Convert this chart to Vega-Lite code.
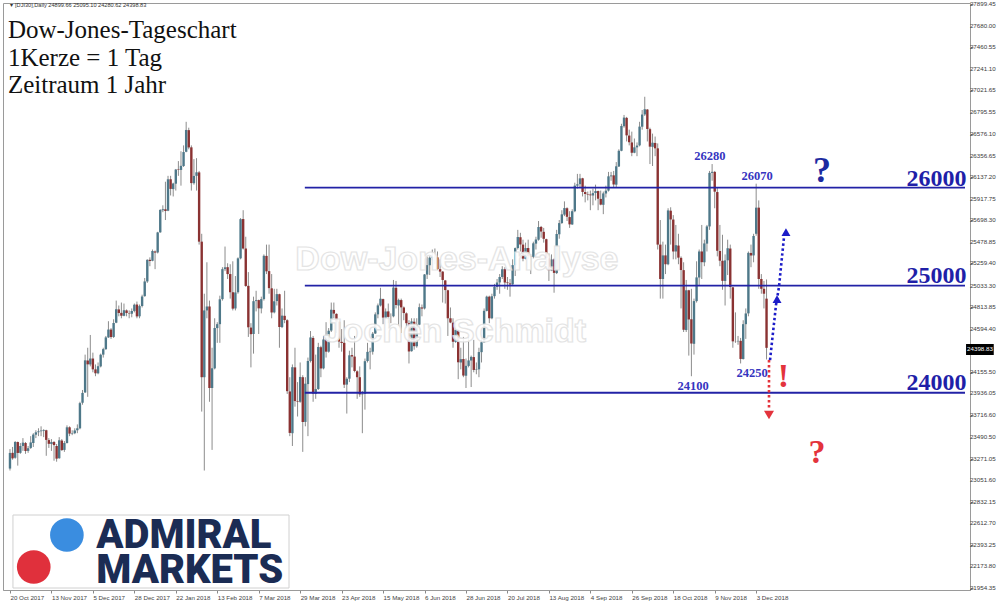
{
"$schema":"https://vega.github.io/schema/vega-lite/v6.json",
"width":967,"height":587,
"autosize":{"type":"none"},
"padding":{"left":3,"top":3,"right":30,"bottom":15},
"background":"white",
"config":{"view":{"stroke":"#9a9a9a","strokeWidth":1},"axis":{"grid":false,"labelOverlap":false,"labelBound":false,"labelFlush":false}},
"datasets":{
"candles":[
{"i":0,"o":23170,"h":23368,"l":23150,"c":23329},{"i":1,"o":23330,"h":23390,"l":23260,"c":23274},{"i":2,"o":23280,"h":23450,"l":23270,"c":23441},{"i":3,"o":23440,"h":23445,"l":23200,"c":23329},{"i":4,"o":23330,"h":23430,"l":23320,"c":23400},{"i":5,"o":23400,"h":23480,"l":23350,"c":23434},{"i":6,"o":23430,"h":23440,"l":23320,"c":23349},{"i":7,"o":23350,"h":23400,"l":23330,"c":23377},{"i":8,"o":23380,"h":23500,"l":23370,"c":23436},{"i":9,"o":23430,"h":23530,"l":23390,"c":23516},
{"i":10,"o":23515,"h":23560,"l":23480,"c":23539},{"i":11,"o":23540,"h":23580,"l":23500,"c":23549},{"i":12,"o":23550,"h":23600,"l":23500,"c":23557},{"i":13,"o":23555,"h":23570,"l":23490,"c":23563},{"i":14,"o":23560,"h":23565,"l":23300,"c":23462},{"i":15,"o":23460,"h":23480,"l":23380,"c":23422},{"i":16,"o":23420,"h":23470,"l":23350,"c":23440},{"i":17,"o":23440,"h":23450,"l":23250,"c":23409},{"i":18,"o":23400,"h":23420,"l":23240,"c":23271},{"i":19,"o":23275,"h":23490,"l":23270,"c":23458},
{"i":20,"o":23455,"h":23470,"l":23350,"c":23358},{"i":21,"o":23360,"h":23450,"l":23340,"c":23430},{"i":22,"o":23430,"h":23610,"l":23425,"c":23590},{"i":23,"o":23590,"h":23600,"l":23500,"c":23526},{"i":24,"o":23525,"h":23560,"l":23510,"c":23530},{"i":25,"o":23530,"h":23580,"l":23520,"c":23558},{"i":26,"o":23560,"h":23620,"l":23530,"c":23580},{"i":27,"o":23580,"h":23850,"l":23570,"c":23836},{"i":28,"o":23840,"h":23970,"l":23820,"c":23940},{"i":29,"o":23945,"h":24330,"l":23940,"c":24272},
{"i":30,"o":24270,"h":24400,"l":23900,"c":24231},{"i":31,"o":24230,"h":24530,"l":24210,"c":24290},{"i":32,"o":24290,"h":24350,"l":24150,"c":24180},{"i":33,"o":24180,"h":24230,"l":24110,"c":24140},{"i":34,"o":24140,"h":24250,"l":24130,"c":24212},{"i":35,"o":24210,"h":24340,"l":24200,"c":24329},{"i":36,"o":24330,"h":24400,"l":24300,"c":24386},{"i":37,"o":24385,"h":24520,"l":24380,"c":24505},{"i":38,"o":24505,"h":24670,"l":24500,"c":24585},{"i":39,"o":24585,"h":24600,"l":24490,"c":24509},
{"i":40,"o":24510,"h":24690,"l":24500,"c":24652},{"i":41,"o":24655,"h":24880,"l":24650,"c":24792},{"i":42,"o":24790,"h":24830,"l":24720,"c":24754},{"i":43,"o":24755,"h":24860,"l":24700,"c":24726},{"i":44,"o":24725,"h":24850,"l":24720,"c":24782},{"i":45,"o":24780,"h":24790,"l":24720,"c":24754},{"i":46,"o":24750,"h":24780,"l":24700,"c":24746},{"i":47,"o":24745,"h":24800,"l":24710,"c":24774},{"i":48,"o":24775,"h":24850,"l":24760,"c":24838},{"i":49,"o":24840,"h":24870,"l":24700,"c":24719},
{"i":50,"o":24720,"h":24840,"l":24700,"c":24824},{"i":51,"o":24825,"h":24940,"l":24810,"c":24922},{"i":52,"o":24925,"h":25110,"l":24920,"c":25075},{"i":53,"o":25075,"h":25300,"l":25060,"c":25295},{"i":54,"o":25295,"h":25320,"l":25230,"c":25283},{"i":55,"o":25285,"h":25400,"l":25280,"c":25385},{"i":56,"o":25380,"h":25390,"l":25200,"c":25369},{"i":57,"o":25370,"h":25580,"l":25360,"c":25574},{"i":58,"o":25575,"h":25810,"l":25570,"c":25803},{"i":59,"o":25800,"h":25850,"l":25780,"c":25810},
{"i":60,"o":25810,"h":26090,"l":25700,"c":25792},{"i":61,"o":25795,"h":26150,"l":25790,"c":26115},{"i":62,"o":26115,"h":26150,"l":25950,"c":26017},{"i":63,"o":26015,"h":26080,"l":25940,"c":26072},{"i":64,"o":26070,"h":26220,"l":26000,"c":26214},{"i":65,"o":26215,"h":26300,"l":26150,"c":26210},{"i":66,"o":26210,"h":26400,"l":26050,"c":26252},{"i":67,"o":26250,"h":26460,"l":26240,"c":26392},{"i":68,"o":26395,"h":26700,"l":26390,"c":26617},{"i":69,"o":26615,"h":26640,"l":26420,"c":26439},
{"i":70,"o":26440,"h":26460,"l":26000,"c":26076},{"i":71,"o":26075,"h":26320,"l":26060,"c":26149},{"i":72,"o":26150,"h":26330,"l":26000,"c":26186},{"i":73,"o":26185,"h":26200,"l":25450,"c":25480},{"i":74,"o":25480,"h":25560,"l":23750,"c":24100},{"i":75,"o":24100,"h":24950,"l":23150,"c":24780},{"i":76,"o":24780,"h":25270,"l":24700,"c":24820},{"i":77,"o":24820,"h":24880,"l":23850,"c":23990},{"i":78,"o":23990,"h":24400,"l":23360,"c":24191},{"i":79,"o":24190,"h":24700,"l":24180,"c":24601},
{"i":80,"o":24600,"h":24660,"l":24450,"c":24640},{"i":81,"o":24640,"h":24930,"l":24450,"c":24893},{"i":82,"o":24895,"h":25220,"l":24880,"c":25200},{"i":83,"o":25200,"h":25430,"l":25180,"c":25219},{"i":84,"o":25220,"h":25260,"l":25100,"c":25150},{"i":85,"o":25150,"h":25250,"l":24900,"c":24965},{"i":86,"o":24965,"h":25280,"l":24780,"c":24798},{"i":87,"o":24800,"h":25130,"l":24780,"c":24963},{"i":88,"o":24965,"h":25320,"l":24950,"c":25310},{"i":89,"o":25310,"h":25720,"l":25300,"c":25709},
{"i":90,"o":25710,"h":25800,"l":25400,"c":25410},{"i":91,"o":25410,"h":25530,"l":25020,"c":25029},{"i":92,"o":25030,"h":25170,"l":24510,"c":24608},{"i":93,"o":24605,"h":24650,"l":24200,"c":24538},{"i":94,"o":24540,"h":24920,"l":24340,"c":24874},{"i":95,"o":24875,"h":24980,"l":24770,"c":24884},{"i":96,"o":24885,"h":24890,"l":24540,"c":24801},{"i":97,"o":24800,"h":24920,"l":24750,"c":24895},{"i":98,"o":24895,"h":25350,"l":24880,"c":25336},{"i":99,"o":25335,"h":25450,"l":25150,"c":25178},
{"i":100,"o":25180,"h":25450,"l":24950,"c":25007},{"i":101,"o":25005,"h":25150,"l":24700,"c":24759},{"i":102,"o":24760,"h":25000,"l":24750,"c":24873},{"i":103,"o":24875,"h":25000,"l":24830,"c":24946},{"i":104,"o":24945,"h":24950,"l":24400,"c":24611},{"i":105,"o":24610,"h":24800,"l":24600,"c":24727},{"i":106,"o":24725,"h":24980,"l":24650,"c":24682},{"i":107,"o":24680,"h":24690,"l":23930,"c":23958},{"i":108,"o":23955,"h":24100,"l":23500,"c":23533},{"i":109,"o":23530,"h":24230,"l":23400,"c":24202},
{"i":110,"o":24200,"h":24400,"l":23800,"c":23857},{"i":111,"o":23855,"h":24050,"l":23700,"c":23849},{"i":112,"o":23850,"h":24250,"l":23840,"c":24103},{"i":113,"o":24100,"h":24120,"l":23340,"c":23644},{"i":114,"o":23645,"h":24100,"l":23600,"c":24034},{"i":115,"o":24030,"h":24300,"l":23500,"c":24265},{"i":116,"o":24265,"h":24570,"l":24250,"c":24505},{"i":117,"o":24500,"h":24520,"l":23850,"c":23933},{"i":118,"o":23930,"h":24330,"l":23880,"c":23979},{"i":119,"o":23980,"h":24450,"l":23970,"c":24408},
{"i":120,"o":24405,"h":24420,"l":24100,"c":24189},{"i":121,"o":24190,"h":24520,"l":24180,"c":24484},{"i":122,"o":24485,"h":24660,"l":24300,"c":24360},{"i":123,"o":24360,"h":24600,"l":24350,"c":24573},{"i":124,"o":24575,"h":24860,"l":24560,"c":24787},{"i":125,"o":24785,"h":24860,"l":24700,"c":24748},{"i":126,"o":24745,"h":24750,"l":24550,"c":24665},{"i":127,"o":24665,"h":24680,"l":24400,"c":24463},{"i":128,"o":24460,"h":24590,"l":24360,"c":24448},{"i":129,"o":24450,"h":24680,"l":23990,"c":24024},
{"i":130,"o":24025,"h":24100,"l":23730,"c":24084},{"i":131,"o":24085,"h":24370,"l":24050,"c":24323},{"i":132,"o":24325,"h":24400,"l":24200,"c":24311},{"i":133,"o":24310,"h":24520,"l":24150,"c":24163},{"i":134,"o":24160,"h":24170,"l":23880,"c":24100},{"i":135,"o":24100,"h":24210,"l":23900,"c":23925},{"i":136,"o":23925,"h":23960,"l":23530,"c":23930},{"i":137,"o":23930,"h":24290,"l":23770,"c":24263},{"i":138,"o":24265,"h":24450,"l":24250,"c":24358},{"i":139,"o":24355,"h":24400,"l":24180,"c":24361},
{"i":140,"o":24360,"h":24560,"l":24330,"c":24543},{"i":141,"o":24545,"h":24760,"l":24540,"c":24740},{"i":142,"o":24740,"h":24850,"l":24700,"c":24831},{"i":143,"o":24830,"h":25010,"l":24820,"c":24899},{"i":144,"o":24895,"h":24900,"l":24640,"c":24707},{"i":145,"o":24705,"h":24800,"l":24690,"c":24769},{"i":146,"o":24770,"h":24850,"l":24650,"c":24714},{"i":147,"o":24715,"h":24750,"l":24650,"c":24715},{"i":148,"o":24720,"h":25090,"l":24710,"c":25013},{"i":149,"o":25010,"h":25080,"l":24800,"c":24835},
{"i":150,"o":24830,"h":24900,"l":24620,"c":24887},{"i":151,"o":24885,"h":24900,"l":24550,"c":24811},{"i":152,"o":24810,"h":24820,"l":24680,"c":24753},{"i":153,"o":24750,"h":24760,"l":24600,"c":24650},{"i":154,"o":24650,"h":24680,"l":24240,"c":24362},{"i":155,"o":24365,"h":24700,"l":24360,"c":24668},{"i":156,"o":24665,"h":24700,"l":24380,"c":24416},{"i":157,"o":24415,"h":24700,"l":24400,"c":24635},{"i":158,"o":24635,"h":24850,"l":24630,"c":24813},{"i":159,"o":24810,"h":24840,"l":24720,"c":24799},
{"i":160,"o":24800,"h":25150,"l":24790,"c":25146},{"i":161,"o":25145,"h":25330,"l":25100,"c":25241},{"i":162,"o":25240,"h":25330,"l":25140,"c":25317},{"i":163,"o":25315,"h":25400,"l":25290,"c":25322},{"i":164,"o":25320,"h":25410,"l":25250,"c":25320},{"i":165,"o":25320,"h":25380,"l":25190,"c":25201},{"i":166,"o":25200,"h":25300,"l":25120,"c":25175},{"i":167,"o":25175,"h":25180,"l":24860,"c":25090},{"i":168,"o":25085,"h":25090,"l":24850,"c":24987},{"i":169,"o":24985,"h":24990,"l":24520,"c":24700},
{"i":170,"o":24700,"h":24810,"l":24650,"c":24657},{"i":171,"o":24655,"h":24700,"l":24400,"c":24461},{"i":172,"o":24460,"h":24650,"l":24450,"c":24580},{"i":173,"o":24580,"h":24590,"l":24080,"c":24252},{"i":174,"o":24250,"h":24400,"l":24180,"c":24284},{"i":175,"o":24285,"h":24510,"l":24100,"c":24117},{"i":176,"o":24115,"h":24290,"l":23990,"c":24216},{"i":177,"o":24215,"h":24510,"l":24200,"c":24271},{"i":178,"o":24270,"h":24320,"l":24000,"c":24307},{"i":179,"o":24305,"h":24480,"l":24150,"c":24174},
{"i":180,"o":24175,"h":24250,"l":24130,"c":24180},{"i":181,"o":24180,"h":24400,"l":24100,"c":24356},{"i":182,"o":24355,"h":24500,"l":24250,"c":24456},{"i":183,"o":24455,"h":24800,"l":24450,"c":24776},{"i":184,"o":24775,"h":24930,"l":24770,"c":24920},{"i":185,"o":24920,"h":24930,"l":24650,"c":24700},{"i":186,"o":24700,"h":24950,"l":24690,"c":24924},{"i":187,"o":24925,"h":25050,"l":24900,"c":25019},{"i":188,"o":25020,"h":25100,"l":24990,"c":25064},{"i":189,"o":25065,"h":25150,"l":24950,"c":25120},
{"i":190,"o":25120,"h":25230,"l":25100,"c":25199},{"i":191,"o":25200,"h":25220,"l":25000,"c":25064},{"i":192,"o":25065,"h":25120,"l":24990,"c":25058},{"i":193,"o":25055,"h":25100,"l":24920,"c":25044},{"i":194,"o":25045,"h":25300,"l":25040,"c":25241},{"i":195,"o":25240,"h":25420,"l":25130,"c":25414},{"i":196,"o":25415,"h":25600,"l":25400,"c":25527},{"i":197,"o":25525,"h":25570,"l":25380,"c":25451},{"i":198,"o":25450,"h":25500,"l":25280,"c":25307},{"i":199,"o":25305,"h":25470,"l":25300,"c":25415},
{"i":200,"o":25415,"h":25500,"l":25300,"c":25333},{"i":201,"o":25330,"h":25350,"l":25150,"c":25327},{"i":202,"o":25325,"h":25480,"l":25310,"c":25463},{"i":203,"o":25460,"h":25530,"l":25400,"c":25502},{"i":204,"o":25500,"h":25690,"l":25490,"c":25629},{"i":205,"o":25630,"h":25640,"l":25520,"c":25583},{"i":206,"o":25580,"h":25620,"l":25470,"c":25509},{"i":207,"o":25505,"h":25510,"l":25240,"c":25313},{"i":208,"o":25310,"h":25360,"l":25080,"c":25187},{"i":209,"o":25185,"h":25350,"l":25180,"c":25299},
{"i":210,"o":25300,"h":25310,"l":24960,"c":25162},{"i":211,"o":25160,"h":25600,"l":25150,"c":25558},{"i":212,"o":25555,"h":25700,"l":25510,"c":25669},{"i":213,"o":25670,"h":25800,"l":25660,"c":25758},{"i":214,"o":25755,"h":25890,"l":25740,"c":25822},{"i":215,"o":25820,"h":25830,"l":25690,"c":25733},{"i":216,"o":25730,"h":25790,"l":25620,"c":25656},{"i":217,"o":25655,"h":25810,"l":25650,"c":25790},{"i":218,"o":25790,"h":26080,"l":25780,"c":26050},{"i":219,"o":26050,"h":26170,"l":26020,"c":26064},
{"i":220,"o":26065,"h":26170,"l":26030,"c":26124},{"i":221,"o":26125,"h":26130,"l":25940,"c":25986},{"i":222,"o":25985,"h":26050,"l":25880,"c":25965},{"i":223,"o":25965,"h":25990,"l":25900,"c":25960},{"i":224,"o":25960,"h":26000,"l":25800,"c":25952},{"i":225,"o":25950,"h":26020,"l":25850,"c":25974},{"i":226,"o":25975,"h":26060,"l":25900,"c":25995},{"i":227,"o":25995,"h":26000,"l":25800,"c":25917},{"i":228,"o":25915,"h":26000,"l":25850,"c":25857},{"i":229,"o":25855,"h":25990,"l":25760,"c":25971},
{"i":230,"o":25970,"h":26050,"l":25930,"c":25999},{"i":231,"o":26000,"h":26190,"l":25990,"c":26145},{"i":232,"o":26145,"h":26190,"l":26100,"c":26154},{"i":233,"o":26155,"h":26200,"l":26030,"c":26062},{"i":234,"o":26060,"h":26290,"l":26030,"c":26247},{"i":235,"o":26245,"h":26420,"l":26240,"c":26405},{"i":236,"o":26405,"h":26680,"l":26400,"c":26657},{"i":237,"o":26655,"h":26770,"l":26640,"c":26743},{"i":238,"o":26740,"h":26750,"l":26500,"c":26562},{"i":239,"o":26560,"h":26620,"l":26460,"c":26492},
{"i":240,"o":26490,"h":26600,"l":26350,"c":26385},{"i":241,"o":26385,"h":26530,"l":26380,"c":26440},{"i":242,"o":26440,"h":26490,"l":26350,"c":26458},{"i":243,"o":26460,"h":26700,"l":26450,"c":26651},{"i":244,"o":26650,"h":26820,"l":26620,"c":26774},{"i":245,"o":26775,"h":26955,"l":26760,"c":26828},{"i":246,"o":26825,"h":26830,"l":26500,"c":26627},{"i":247,"o":26625,"h":26640,"l":26270,"c":26447},{"i":248,"o":26445,"h":26580,"l":26250,"c":26487},{"i":249,"o":26485,"h":26550,"l":26350,"c":26430},
{"i":250,"o":26430,"h":26480,"l":25400,"c":25450},{"i":251,"o":25450,"h":25700,"l":24900,"c":25100},{"i":252,"o":25100,"h":25480,"l":24900,"c":25340},{"i":253,"o":25340,"h":25450,"l":25150,"c":25250},{"i":254,"o":25250,"h":25820,"l":25240,"c":25798},{"i":255,"o":25795,"h":25830,"l":25450,"c":25706},{"i":256,"o":25705,"h":25750,"l":25300,"c":25380},{"i":257,"o":25380,"h":25650,"l":25300,"c":25444},{"i":258,"o":25440,"h":25560,"l":25250,"c":25317},{"i":259,"o":25315,"h":25330,"l":24800,"c":25191},
{"i":260,"o":25190,"h":25270,"l":24560,"c":24583},{"i":261,"o":24580,"h":25090,"l":24560,"c":24985},{"i":262,"o":24985,"h":24990,"l":24320,"c":24688},{"i":263,"o":24690,"h":25000,"l":24110,"c":24443},{"i":264,"o":24440,"h":24900,"l":24330,"c":24875},{"i":265,"o":24875,"h":25280,"l":24860,"c":25116},{"i":266,"o":25115,"h":25400,"l":25030,"c":25380},{"i":267,"o":25380,"h":25650,"l":25100,"c":25271},{"i":268,"o":25270,"h":25500,"l":25230,"c":25462},{"i":269,"o":25460,"h":25650,"l":25380,"c":25635},
{"i":270,"o":25635,"h":26200,"l":25600,"c":26180},{"i":271,"o":26180,"h":26270,"l":26100,"c":26191},{"i":272,"o":26190,"h":26200,"l":25820,"c":25989},{"i":273,"o":25985,"h":26030,"l":25330,"c":25387},{"i":274,"o":25385,"h":25650,"l":25230,"c":25286},{"i":275,"o":25285,"h":25550,"l":24990,"c":25081},{"i":276,"o":25080,"h":25350,"l":24830,"c":25289},{"i":277,"o":25290,"h":25500,"l":25140,"c":25413},{"i":278,"o":25410,"h":25450,"l":24900,"c":25018},{"i":279,"o":25015,"h":25020,"l":24400,"c":24465},
{"i":280,"o":24465,"h":24760,"l":24450,"c":24464},{"i":281,"o":24465,"h":24520,"l":24430,"c":24470},{"i":282,"o":24470,"h":24500,"l":24240,"c":24286},{"i":283,"o":24285,"h":24680,"l":24280,"c":24640},{"i":284,"o":24640,"h":24800,"l":24490,"c":24749},{"i":285,"o":24750,"h":25380,"l":24720,"c":25366},{"i":286,"o":25365,"h":25450,"l":25220,"c":25339},{"i":287,"o":25340,"h":25560,"l":25270,"c":25538},{"i":288,"o":25560,"h":26070,"l":25540,"c":25826},{"i":289,"o":25826,"h":25900,"l":25000,"c":25100},
{"i":290,"o":25100,"h":25150,"l":24950,"c":25000},{"i":291,"o":25000,"h":25080,"l":24800,"c":24950},{"i":292,"o":24899.66,"h":25095.10,"l":24280.62,"c":24398.83}
],
"yticks":[{"v":27899.45},{"v":27680.00},{"v":27460.55},{"v":27241.10},{"v":27021.65},{"v":26795.55},{"v":26576.10},{"v":26356.65},{"v":26137.20},{"v":25917.75},{"v":25698.30},{"v":25478.85},{"v":25259.40},{"v":25033.30},{"v":24813.85},{"v":24594.40},{"v":24155.50},{"v":23936.05},{"v":23716.60},{"v":23490.50},{"v":23271.05},{"v":23051.60},{"v":22832.15},{"v":22612.70},{"v":22393.25},{"v":22173.80},{"v":21954.35}],
"levels":[{"p":26029,"from":113.8,"to":368.6},{"p":25032,"from":113.8,"to":368.6},{"p":23942,"from":113.8,"to":368.6}],
"notes":[
{"g":"hdr","t":"▾ [DJI30],Daily  24899.66 25095.10 24280.62 24398.83","i":0.2,"p":27864},
{"g":"title","t":"Dow-Jones-Tageschart","i":-0.8,"p":27553},
{"g":"title","t":"1Kerze = 1 Tag","i":-0.8,"p":27268},
{"g":"title","t":"Zeitraum 1 Jahr","i":-0.8,"p":26993},
{"g":"peak","t":"26280","i":270.1,"p":26311},
{"g":"peak","t":"26070","i":288.4,"p":26108},
{"g":"peak","t":"24100","i":263.7,"p":23965},
{"g":"peak","t":"24250","i":286.4,"p":24102},
{"g":"level","t":"26000","i":369.2,"p":26046},
{"g":"level","t":"25000","i":369.2,"p":25059},
{"g":"level","t":"24000","i":369.2,"p":23970},
{"g":"bq","t":"?","i":313.4,"p":26087},
{"g":"red","t":"?","i":311.5,"p":23227},
{"g":"red","t":"!","i":298.5,"p":24000},
{"g":"wm","t":"Dow-Jones-Analyse","i":172.5,"p":25191},
{"g":"wm","t":"Jochen Schmidt","i":171.7,"p":24458},
{"g":"logo","t":"ADMIRAL","i":33.3,"p":22361},
{"g":"logo","t":"MARKETS","i":33.3,"p":22005},
{"g":"px","t":"24398.83","i":369.4,"p":24387}
],
"paths":[
{"s":"up","n":0,"i":293.35,"p":24275},{"s":"up","n":1,"i":295.65,"p":24835},{"s":"up","n":2,"i":296.8,"p":25018},{"s":"up","n":3,"i":298.7,"p":25517},
{"s":"down","n":0,"i":292.95,"p":24275},{"s":"down","n":1,"i":292.95,"p":23787}
],
"heads":[{"s":"up","i":296.05,"p":24896},{"s":"up","i":299.5,"p":25578},{"s":"down","i":292.95,"p":23715}],
"logobox":[{"i0":1.15,"i1":107.7,"p0":22697,"p1":21954}],
"dots":[{"k":"blue","i":21.96,"p":22494},{"k":"red","i":9.17,"p":22168}],
"pxbox":[{"i0":369.0,"i1":379.7,"p0":24438,"p1":24326}]
},
"layer":[
{"data":{"name":"candles"},
 "mark":{"type":"rule","color":"#8c8c8c","strokeWidth":1},
 "encoding":{
  "x":{"field":"i","type":"quantitative","scale":{"domain":[-0.764,368.6],"nice":false,"zero":false},
   "axis":{"title":null,"orient":"bottom","values":[0,16,32,48,64,80,96,112,128,144,160,176,192,208,224,240,256,272,288],
    "labelExpr":"['20 Oct 2017','13 Nov 2017','5 Dec 2017','28 Dec 2017','22 Jan 2018','13 Feb 2018','7 Mar 2018','29 Mar 2018','23 Apr 2018','15 May 2018','6 Jun 2018','28 Jun 2018','20 Jul 2018','13 Aug 2018','4 Sep 2018','26 Sep 2018','18 Oct 2018','9 Nov 2018','3 Dec 2018'][round(datum.value/16)]",
    "labelAlign":"left","labelFont":"Liberation Sans","labelFontSize":6.2,"labelColor":"#444444","labelPadding":1,"tickSize":3,"tickColor":"#888888","domainColor":"#9a9a9a","grid":false,"labelOverlap":false,"labelBound":false,"labelFlush":false}},
  "y":{"field":"l","type":"quantitative","scale":{"domain":[21933.8,27909.46],"nice":false,"zero":false},
   "axis":{"title":null,"orient":"right","values":[27899.45,27680.00,27460.55,27241.10,27021.65,26795.55,26576.10,26356.65,26137.20,25917.75,25698.30,25478.85,25259.40,25033.30,24813.85,24594.40,24155.50,23936.05,23716.60,23490.50,23271.05,23051.60,22832.15,22612.70,22393.25,22173.80,21954.35],
    "labels":false,"tickSize":3,"tickColor":"#888888","domainColor":"#9a9a9a","grid":false}},
  "y2":{"field":"h"}}},
{"data":{"name":"candles"},
 "mark":{"type":"bar","width":2.4},
 "encoding":{
  "x":{"field":"i","type":"quantitative","title":null},
  "y":{"field":"o","type":"quantitative","title":null},
  "y2":{"field":"c"},
  "color":{"condition":{"test":"datum.c >= datum.o","value":"#4e7889"},"value":"#8a3232"}}},
{"data":{"name":"levels"},
 "mark":{"type":"rule","color":"#2222a6","strokeWidth":1.8},
 "encoding":{"x":{"field":"from","type":"quantitative","title":null},"x2":{"field":"to"},"y":{"field":"p","type":"quantitative","title":null}}},
{"data":{"name":"notes"},"transform":[{"filter":"datum.g == 'wm'"}],
 "mark":{"type":"text","font":"Liberation Sans","fontWeight":"bold","fontSize":34,"align":"center","baseline":"alphabetic","fill":"#ffffff","stroke":"#e2e2e2","strokeWidth":1.2,"opacity":0.92},
 "encoding":{"x":{"field":"i","type":"quantitative","title":null},"y":{"field":"p","type":"quantitative","title":null},"text":{"field":"t"}}},
{"data":{"name":"logobox"},
 "mark":{"type":"rect","fill":"#ffffff","stroke":"#d0d0d0","strokeWidth":1},
 "encoding":{"x":{"field":"i0","type":"quantitative","title":null},"x2":{"field":"i1"},"y":{"field":"p0","type":"quantitative","title":null},"y2":{"field":"p1"}}},
{"data":{"name":"dots"},
 "mark":{"type":"point","shape":"circle","filled":true,"size":1134,"opacity":1},
 "encoding":{"x":{"field":"i","type":"quantitative","title":null},"y":{"field":"p","type":"quantitative","title":null},
  "color":{"field":"k","type":"nominal","scale":{"domain":["blue","red"],"range":["#3a8de0","#e0303c"]},"legend":null}}},
{"data":{"name":"notes"},"transform":[{"filter":"datum.g == 'logo'"}],
 "mark":{"type":"text","font":"Roboto","fontWeight":900,"fontSize":40,"align":"left","baseline":"alphabetic","color":"#1b2c54"},
 "encoding":{"x":{"field":"i","type":"quantitative","title":null},"y":{"field":"p","type":"quantitative","title":null},"text":{"field":"t"}}},
{"data":{"name":"notes"},"transform":[{"filter":"datum.g == 'hdr'"}],
 "mark":{"type":"text","font":"Liberation Sans","fontSize":5.6,"align":"left","baseline":"alphabetic","color":"#333333"},
 "encoding":{"x":{"field":"i","type":"quantitative","title":null},"y":{"field":"p","type":"quantitative","title":null},"text":{"field":"t"}}},
{"data":{"name":"notes"},"transform":[{"filter":"datum.g == 'title'"}],
 "mark":{"type":"text","font":"Liberation Serif","fontSize":25,"align":"left","baseline":"alphabetic","color":"#111111"},
 "encoding":{"x":{"field":"i","type":"quantitative","title":null},"y":{"field":"p","type":"quantitative","title":null},"text":{"field":"t"}}},
{"data":{"name":"notes"},"transform":[{"filter":"datum.g == 'peak'"}],
 "mark":{"type":"text","font":"Liberation Serif","fontWeight":"bold","fontSize":12.5,"align":"center","baseline":"alphabetic","color":"#3535c0"},
 "encoding":{"x":{"field":"i","type":"quantitative","title":null},"y":{"field":"p","type":"quantitative","title":null},"text":{"field":"t"}}},
{"data":{"name":"notes"},"transform":[{"filter":"datum.g == 'level'"}],
 "mark":{"type":"text","font":"Liberation Serif","fontWeight":"bold","fontSize":24,"align":"right","baseline":"alphabetic","color":"#1f1fa8"},
 "encoding":{"x":{"field":"i","type":"quantitative","title":null},"y":{"field":"p","type":"quantitative","title":null},"text":{"field":"t"}}},
{"data":{"name":"notes"},"transform":[{"filter":"datum.g == 'bq'"}],
 "mark":{"type":"text","font":"Liberation Serif","fontWeight":"bold","fontSize":36,"align":"center","baseline":"alphabetic","color":"#1c2aa0"},
 "encoding":{"x":{"field":"i","type":"quantitative","title":null},"y":{"field":"p","type":"quantitative","title":null},"text":{"field":"t"}}},
{"data":{"name":"notes"},"transform":[{"filter":"datum.g == 'red'"}],
 "mark":{"type":"text","font":"Liberation Serif","fontWeight":"bold","fontSize":34,"align":"center","baseline":"alphabetic","color":"#e3333c"},
 "encoding":{"x":{"field":"i","type":"quantitative","title":null},"y":{"field":"p","type":"quantitative","title":null},"text":{"field":"t"}}},
{"data":{"name":"paths"},"transform":[{"filter":"datum.s == 'up'"}],
 "mark":{"type":"line","color":"#1c1cc8","strokeWidth":2.6,"strokeDash":[2.5,2.5]},
 "encoding":{"x":{"field":"i","type":"quantitative","title":null},"y":{"field":"p","type":"quantitative","title":null},"order":{"field":"n"}}},
{"data":{"name":"paths"},"transform":[{"filter":"datum.s == 'down'"}],
 "mark":{"type":"line","color":"#e3333c","strokeWidth":2.6,"strokeDash":[2.5,2.5]},
 "encoding":{"x":{"field":"i","type":"quantitative","title":null},"y":{"field":"p","type":"quantitative","title":null},"order":{"field":"n"}}},
{"data":{"name":"heads"},"transform":[{"filter":"datum.s == 'up'"}],
 "mark":{"type":"point","shape":"triangle-up","filled":true,"size":80,"color":"#1c1cc8","opacity":1},
 "encoding":{"x":{"field":"i","type":"quantitative","title":null},"y":{"field":"p","type":"quantitative","title":null}}},
{"data":{"name":"heads"},"transform":[{"filter":"datum.s == 'down'"}],
 "mark":{"type":"point","shape":"triangle-down","filled":true,"size":100,"color":"#e3333c","opacity":1},
 "encoding":{"x":{"field":"i","type":"quantitative","title":null},"y":{"field":"p","type":"quantitative","title":null}}},
{"data":{"name":"yticks"},
 "mark":{"type":"text","font":"Liberation Sans","fontSize":6.2,"align":"left","baseline":"middle","color":"#3a3a3a"},
 "encoding":{"x":{"datum":370.5,"type":"quantitative","title":null},"y":{"field":"v","type":"quantitative","title":null},"text":{"field":"v","type":"quantitative","format":".2f"}}},
{"data":{"name":"pxbox"},
 "mark":{"type":"rect","fill":"#000000"},
 "encoding":{"x":{"field":"i0","type":"quantitative","title":null},"x2":{"field":"i1"},"y":{"field":"p0","type":"quantitative","title":null},"y2":{"field":"p1"}}},
{"data":{"name":"notes"},"transform":[{"filter":"datum.g == 'px'"}],
 "mark":{"type":"text","font":"Liberation Sans","fontSize":6.2,"align":"left","baseline":"middle","color":"#ffffff"},
 "encoding":{"x":{"field":"i","type":"quantitative","title":null},"y":{"field":"p","type":"quantitative","title":null},"text":{"field":"t"}}}
]
}
